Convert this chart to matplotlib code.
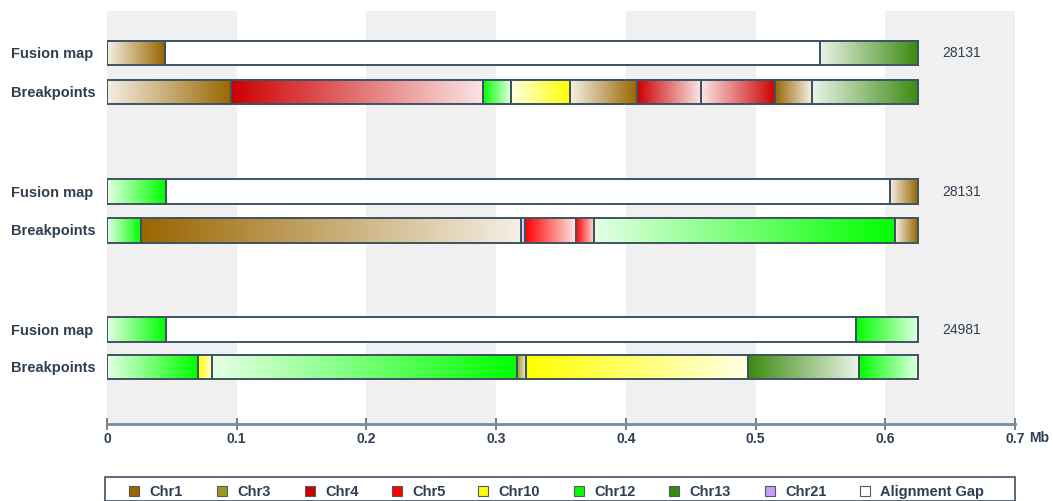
import matplotlib
matplotlib.use("Agg")
import matplotlib.pyplot as plt
from matplotlib.patches import Rectangle
from matplotlib.colors import to_rgb
import numpy as np

plt.rcParams['font.family'] = ['Liberation Sans', 'DejaVu Sans']

# chromosome palette
chroms = ['Chr1', 'Chr3', 'Chr4', 'Chr5', 'Chr10', 'Chr12', 'Chr13', 'Chr21', 'Alignment Gap']
chrom_colors = ['#996600', '#999922', '#cc0000', '#ff0000', '#ffff00', '#00ff00', '#3a8a10', '#cc99ff', '#ffffff']

# segments: (chromosome, start Mb, end Mb, gradient direction: 1 = light->dark, -1 = dark->light)
fusion_1 = [('Chr1', 0.0, 0.0447, 1), ('Alignment Gap', 0.0447, 0.5497, 0), ('Chr13', 0.5497, 0.6252, 1)]
breaks_1 = [('Chr1', 0.0, 0.0956, 1), ('Chr4', 0.0956, 0.2901, -1), ('Chr12', 0.2901, 0.3115, -1),
            ('Chr10', 0.3115, 0.3573, 1), ('Chr1', 0.3573, 0.4089, 1), ('Chr4', 0.4089, 0.4577, -1),
            ('Chr4', 0.4577, 0.5152, 1), ('Chr1', 0.5152, 0.5432, -1), ('Chr13', 0.5432, 0.6252, 1)]
fusion_2 = [('Chr12', 0.0, 0.0452, 1), ('Alignment Gap', 0.0452, 0.6037, 0), ('Chr1', 0.6037, 0.6252, 1)]
breaks_2 = [('Chr12', 0.0, 0.0262, 1), ('Chr1', 0.0262, 0.3194, -1), ('Chr21', 0.3194, 0.3223, 1),
            ('Chr5', 0.3223, 0.3616, -1), ('Chr5', 0.3616, 0.3755, -1), ('Chr12', 0.3755, 0.6075, 1),
            ('Chr1', 0.6075, 0.6252, 1)]
fusion_3 = [('Chr12', 0.0, 0.0452, 1), ('Alignment Gap', 0.0452, 0.5774, 0), ('Chr12', 0.5774, 0.6252, -1)]
breaks_3 = [('Chr12', 0.0, 0.0699, 1), ('Chr10', 0.0699, 0.0812, -1), ('Chr12', 0.0812, 0.3159, 1),
            ('Chr3', 0.3159, 0.3231, -1), ('Chr10', 0.3231, 0.4944, -1), ('Chr13', 0.4944, 0.5797, -1),
            ('Chr12', 0.5797, 0.6252, -1)]
totals = ['28131', '28131', '24981']
row_labels = ['Fusion map', 'Breakpoints']
xticks = [0, 0.1, 0.2, 0.3, 0.4, 0.5, 0.6, 0.7]
xtick_labels = ['0', '0.1', '0.2', '0.3', '0.4', '0.5', '0.6', '0.7']

text_col = '#2f3f4f'
edge_col = '#3e5262'

W, H = 1053, 502
fig = plt.figure(figsize=(W / 100, H / 100), dpi=100)
ax = fig.add_axes([107 / W, (H - 425) / H, 908 / W, 413 / H])
ax.set_xlim(0, 0.7)
ax.set_ylim(425, 12)

# alternating background bands
for i in range(0, 7, 2):
    ax.axvspan(i / 10, (i + 1) / 10, color='#f0f0f0', zorder=0, lw=0)


def draw_bar(segs, top, bottom):
    for chrom, x0, x1, d in segs:
        c = np.array(to_rgb(chrom_colors[chroms.index(chrom)]))
        if d == 0:
            ax.add_patch(Rectangle((x0, top), x1 - x0, bottom - top, facecolor='white',
                                   edgecolor='none', zorder=2))
        else:
            light = c + (1 - c) * 0.9
            t = np.linspace(0, 1, 256)
            if d < 0:
                t = t[::-1]
            grad = light[None, :] * (1 - t[:, None]) + c[None, :] * t[:, None]
            ax.imshow(grad[None, :, :], extent=[x0, x1, bottom, top], aspect='auto',
                      interpolation='bilinear', zorder=2)
        ax.add_patch(Rectangle((x0, top), x1 - x0, bottom - top, facecolor='none',
                               edgecolor=edge_col, lw=1.4, zorder=3))


rows = [(fusion_1, breaks_1, 41.5, 80.8), (fusion_2, breaks_2, 180.3, 219.0), (fusion_3, breaks_3, 318.5, 355.8)]
for (fm, bp, y_fm, y_bp), total in zip(rows, totals):
    draw_bar(fm, y_fm, y_fm + 24.6)
    draw_bar(bp, y_bp, y_bp + 24.6)
    for lab, y in zip(row_labels, [y_fm, y_bp]):
        fig.text(11 / W, 1 - (y + 12.3) / H, lab, fontsize=10.5, fontweight='bold',
                 color=text_col, ha='left', va='center')
    fig.text(942 / W, 1 - (y_fm + 11.5) / H, total, fontsize=10, color=text_col,
             ha='left', va='center')

ax.set_xlim(0, 0.7)
ax.set_ylim(425, 12)

for s in ['top', 'left', 'right']:
    ax.spines[s].set_visible(False)
ax.spines['bottom'].set_color('#7b8b97')
ax.spines['bottom'].set_linewidth(2)
ax.set_yticks([])
ax.set_xticks(xticks)
ax.set_xticklabels(xtick_labels, fontsize=10, fontweight='bold', color=text_col)
ax.tick_params(axis='x', direction='inout', length=8, width=1.2, color='#5b6b77', pad=1)
fig.text(1029 / W, 1 - 438 / H, 'Mb', fontsize=10, fontweight='bold', color=text_col,
         ha='left', va='center')

# legend strip along the bottom
fig.patches.append(Rectangle((105 / W, 0), 910 / W, 24 / H, transform=fig.transFigure,
                             facecolor='white', edgecolor=edge_col, lw=1.2))
leg_x = [129, 217, 305, 392, 478, 574, 669, 765, 860]
for name, col, x in zip(chroms, chrom_colors, leg_x):
    fig.patches.append(Rectangle((x / W, (H - 497) / H), 10 / W, 10 / H, transform=fig.transFigure,
                                 facecolor=col, edgecolor='#505a60', lw=0.8))
    fig.text((x + 20) / W, 1 - 492 / H, name, fontsize=10.5, fontweight='bold',
             color=text_col, ha='left', va='center')

fig.savefig('out.png', dpi=100)
